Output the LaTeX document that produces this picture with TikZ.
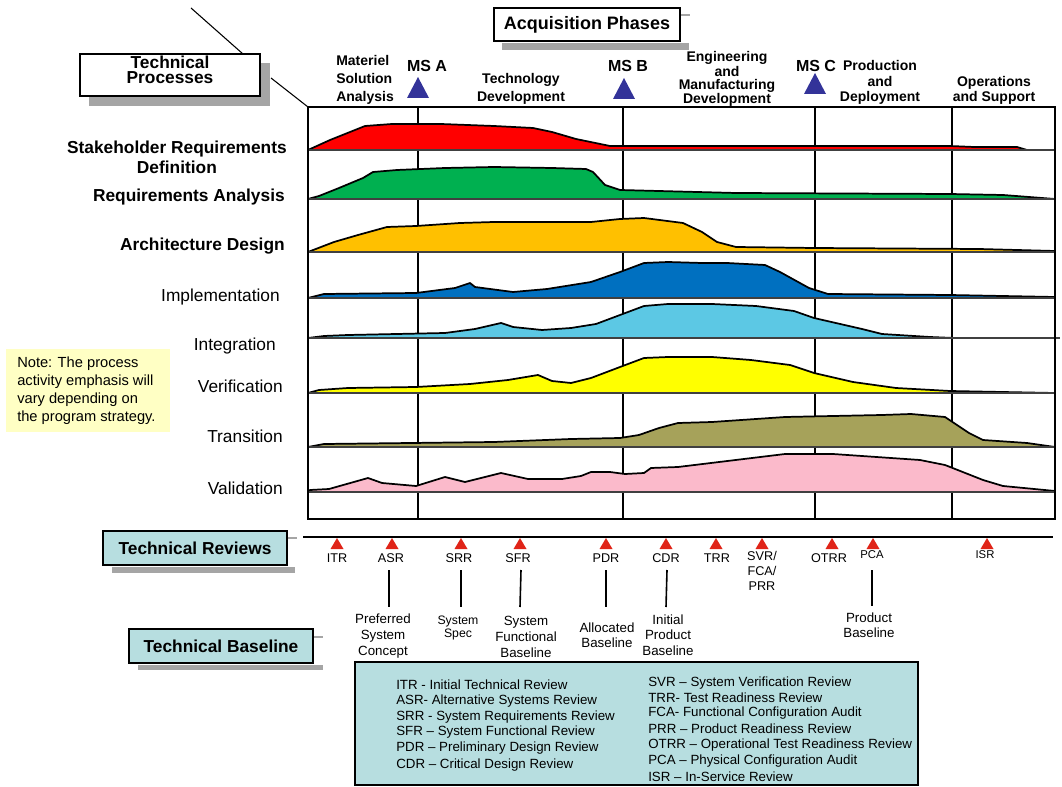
\documentclass[tikz,border=0pt]{standalone}
\usepackage{fontspec}
\setmainfont{Liberation Sans}
\definecolor{cRed}{RGB}{255,0,0}
\definecolor{cGreen}{RGB}{0,176,80}
\definecolor{cOrange}{RGB}{255,192,0}
\definecolor{cBlue}{RGB}{0,112,192}
\definecolor{cLBlue}{RGB}{92,200,228}
\definecolor{cYellow}{RGB}{255,255,0}
\definecolor{cOlive}{RGB}{166,162,90}
\definecolor{cPink}{RGB}{251,186,203}
\definecolor{msBlue}{RGB}{51,51,153}
\definecolor{revRed}{RGB}{224,36,24}
\definecolor{cyanBox}{RGB}{183,222,224}
\definecolor{noteY}{RGB}{255,255,196}
\definecolor{shadowG}{RGB}{165,165,165}
\newcommand\procarea[2]{\fill[#1] #2 -- cycle; \draw[curve] #2;}
\tikzset{
  gridln/.style={line width=1.4pt, black},
  boxln/.style={line width=1.5pt, black},
  baseln/.style={line width=2pt, black!75},
  curve/.style={line width=1.3pt, black, line join=round},
  plbl/.style={anchor=east, inner sep=0, font=\fontsize{13}{15}\selectfont},
  bplbl/.style={plbl, font=\bfseries\fontsize{13}{15}\selectfont},
  phase/.style={inner sep=0, align=center, font=\bfseries\fontsize{10.5}{13.5}\selectfont},
  mslbl/.style={inner sep=0, font=\bfseries\fontsize{12}{14}\selectfont},
  revlbl/.style={inner sep=0, font=\fontsize{9.5}{11.5}\selectfont, align=center},
  blbl/.style={inner sep=0, font=\fontsize{10}{12}\selectfont, align=center},
  leg/.style={anchor=west, inner sep=0, font=\fontsize{10}{12}\selectfont},
  shadowbox/.style={fill=shadowG},
  titlebox/.style={draw, line width=1.5pt, fill=white, inner sep=0, align=center, font=\bfseries\fontsize{13}{12}\selectfont},
  cyanbox/.style={draw, line width=1.8pt, fill=cyanBox, inner sep=0, align=center, font=\bfseries\fontsize{13}{15}\selectfont},
  conn/.style={line width=1.2pt, black},
}
\begin{document}
\begin{tikzpicture}[x=0.75pt,y=-0.75pt]
\useasboundingbox (0,0) rectangle (1062,787);

% ---------- header boxes ----------
\coordinate (d1a) at (191,8); \coordinate (d1b) at (243,54);
\coordinate (d2a) at (271,78); \coordinate (d2b) at (308,107);
\draw[line width=0.8pt] (d1a) -- (d1b);
\draw[line width=0.8pt] (d2a) -- (d2b);

\fill[shadowbox] (89,63) rectangle (270,106);
\node[titlebox, minimum width=135pt, minimum height=31.5pt] (tp) at (170,75) {};
\node[inner sep=0, align=center, font=\bfseries\fontsize{13}{11.5}\selectfont] (tpt) at (170,70) {Technical\\Processes};

\fill[shadowbox] (502,43) rectangle (689,50);
\draw[shadowG, line width=0.8pt] (680,15) -- (690,15);
\node[titlebox, minimum width=139.5pt, minimum height=24.75pt, font=\bfseries\fontsize{13.5}{15}\selectfont] (acq) at (587,24.5) {Acquisition Phases};

% ---------- phases & milestones ----------
\node[phase, anchor=west, align=left] (msa) at (336,80) {Materiel\\Solution\\Analysis};
\node[phase] (td) at (521,89) {Technology\\Development};
\node[phase, font=\bfseries\fontsize{10.5}{9.8}\selectfont] (emd) at (727,79) {Engineering\\and\\Manufacturing\\Development};
\node[phase, font=\bfseries\fontsize{10.5}{11.6}\selectfont] (pd) at (880,82.5) {Production\\and\\Deployment};
\node[phase, font=\bfseries\fontsize{10.5}{11.3}\selectfont] (os) at (994,90.5) {Operations\\and Support};

\node[mslbl] (msA) at (427,66) {MS A};
\node[mslbl] (msB) at (628,66) {MS B};
\node[mslbl] (msC) at (816,66) {MS C};
\fill[msBlue] (407,98) -- (429,98) -- (418,77) -- cycle;
\fill[msBlue] (613,99) -- (635,99) -- (624,78) -- cycle;
\fill[msBlue] (804,94) -- (826,94) -- (815,73) -- cycle;

% ---------- grid ----------
\foreach \x in {418,623,815,952} \draw[gridln] (\x,107) -- (\x,519);

% ---------- process curves ----------
\procarea{cRed}{(308,150) -- (330,140) -- (365,126) -- (392,124) -- (441,124) -- (494,126) -- (533,128) -- (552,132) -- (576,139) -- (610,146) -- (950,146) -- (974,147) -- (1017,147) -- (1027,150) -- (1055,150)}
\procarea{cGreen}{(308,199) -- (319,196) -- (339,188) -- (363,178) -- (373,172) -- (397,170) -- (445,168) -- (494,167) -- (552,168) -- (586,169) -- (593,172) -- (605,185) -- (620,190) -- (736,193) -- (950,194) -- (1003,195) -- (1055,199)}
\procarea{cOrange}{(308,252) -- (334,242) -- (358,235) -- (387,227) -- (416,226) -- (460,223) -- (494,222) -- (591,222) -- (620,219) -- (644,218) -- (683,223) -- (702,232) -- (717,242) -- (736,247) -- (814,248) -- (979,249) -- (1055,251) -- (1055,252)}
\procarea{cBlue}{(308,298) -- (324,294) -- (416,293) -- (455,288) -- (470,283) -- (475,287) -- (513,292) -- (547,289) -- (591,282) -- (620,272) -- (644,263) -- (668,262) -- (702,263) -- (727,263) -- (765,265) -- (780,272) -- (809,288) -- (828,294) -- (950,295) -- (1055,297) -- (1055,298)}
\procarea{cLBlue}{(308,338) -- (324,336) -- (348,335) -- (445,333) -- (475,329) -- (501,323) -- (513,327) -- (542,330) -- (571,328) -- (596,324) -- (620,315) -- (644,306) -- (668,304) -- (712,304) -- (756,306) -- (794,311) -- (814,318) -- (862,329) -- (882,334) -- (930,337) -- (954,338) -- (1055,338)}
\procarea{cYellow}{(308,393) -- (319,390) -- (348,388) -- (416,387) -- (470,384) -- (508,380) -- (538,375) -- (552,381) -- (571,383) -- (591,378) -- (620,367) -- (644,358) -- (668,357) -- (712,357) -- (751,360) -- (790,365) -- (814,373) -- (853,382) -- (896,388) -- (950,391) -- (1055,393)}
\procarea{cOlive}{(308,447) -- (324,444) -- (411,443) -- (494,442) -- (571,439) -- (620,438) -- (639,435) -- (659,428) -- (678,423) -- (712,422) -- (785,417) -- (833,416) -- (882,415) -- (911,414) -- (945,417) -- (969,433) -- (983,440) -- (1027,443) -- (1055,447)}
\procarea{cPink}{(308,492) -- (310,490) -- (329,489) -- (368,478) -- (382,483) -- (416,486) -- (445,477) -- (465,482) -- (501,473) -- (528,479) -- (562,479) -- (581,476) -- (591,472) -- (610,472) -- (625,474) -- (644,473) -- (651,468) -- (678,467) -- (785,454) -- (833,454) -- (920,460) -- (945,465) -- (983,480) -- (1003,486) -- (1055,491)}

\foreach \y in {150,199,252,298,393,447,492} \draw[baseln] (308,\y) -- (1055,\y);
\draw[baseln] (308,338) -- (1060,338);
\draw[boxln] (308,107) rectangle (1055,519);

% ---------- process labels ----------
\node[bplbl, align=center, font=\bfseries\fontsize{13}{15}\selectfont] (srd) at (287,157) {Stakeholder Requirements\\Definition};
\node[bplbl] (ra) at (285,197) {Requirements Analysis};
\node[bplbl] (ad) at (285,246) {Architecture Design};
\node[plbl] (impl) at (280,297) {Implementation};
\node[plbl] (integ) at (276,346) {Integration};
\node[plbl] (verif) at (283,386) {Verification};
\node[plbl] (trans) at (283,436) {Transition};
\node[plbl] (valid) at (283,488) {Validation};

% ---------- note ----------
\fill[noteY] (6,349) rectangle (170,432);
\node[anchor=west, inner sep=0, align=left, font=\fontsize{11}{13.5}\selectfont] (note) at (17,391) {Note: The process\\activity emphasis will\\vary depending on\\the program strategy.};

% ---------- technical reviews ----------
\fill[shadowbox] (112,567) rectangle (295,573);
\draw[shadowG, line width=0.8pt] (287,538) -- (297,538);
\node[cyanbox, minimum width=138pt, minimum height=25.5pt] (trv) at (195,548) {Technical Reviews};

\draw[line width=1.5pt] (303,537) -- (1053,537);
\foreach \x in {337,392,461,520,606,666,716,762,832,873,987}
  \fill[revRed] (\x-6.5,549) -- (\x+6.5,549) -- (\x,538) -- cycle;

\node[revlbl] (itr) at (337,558) {ITR};
\node[revlbl] (asr) at (391,558) {ASR};
\node[revlbl] (srr) at (459,558) {SRR};
\node[revlbl] (sfr) at (518,558) {SFR};
\node[revlbl] (pdr) at (606,558) {PDR};
\node[revlbl] (cdr) at (666,558) {CDR};
\node[revlbl] (trr) at (717,558) {TRR};
\node[revlbl, anchor=north, font=\fontsize{9.5}{11.3}\selectfont] (svr) at (762,551) {SVR/\\FCA/\\PRR};
\node[revlbl] (otrr) at (829,558) {OTRR};
\node[revlbl, font=\fontsize{8.5}{10}\selectfont] (pca) at (872,555) {PCA};
\node[revlbl, font=\fontsize{8.5}{10}\selectfont] (isr) at (985,555) {ISR};

% ---------- technical baseline ----------
\fill[shadowbox] (138,665) rectangle (323,670);
\draw[shadowG, line width=0.8pt] (313,637) -- (323,637);
\node[cyanbox, minimum width=138pt, minimum height=25.5pt] (tbl) at (221,646) {Technical Baseline};

\node[blbl] (psc) at (383,636) {Preferred\\System\\Concept};
\node[blbl, font=\fontsize{9.2}{10}\selectfont] (ssp) at (458,628) {System\\Spec};
\node[blbl] (sfb) at (526,637) {System\\Functional\\Baseline};
\node[blbl, font=\fontsize{10}{11.3}\selectfont] (alb) at (607,635) {Allocated\\Baseline};
\node[blbl, font=\fontsize{10}{11.5}\selectfont] (ipb) at (668,635) {Initial\\Product\\Baseline};
\node[blbl, font=\fontsize{10}{11.3}\selectfont] (prb) at (869,625) {Product\\Baseline};

\coordinate (c1a) at (389,570); \coordinate (c1b) at (389,607);
\coordinate (c2a) at (461,570); \coordinate (c2b) at (461,607);
\coordinate (c3a) at (521,570); \coordinate (c3b) at (520,607);
\coordinate (c4a) at (606,570); \coordinate (c4b) at (606,607);
\coordinate (c5a) at (667,570); \coordinate (c5b) at (666,607);
\coordinate (c6a) at (872,570); \coordinate (c6b) at (872,606);
\foreach \i in {1,...,6} \draw[conn] (c\i a) -- (c\i b);

% ---------- legend ----------
\node[draw, line width=1.5pt, fill=cyanBox, minimum width=422.25pt, minimum height=92.25pt, inner sep=0] (legend) at (636.5,723.5) {};
\node[leg] (l1) at (396,685) {ITR - Initial Technical Review};
\node[leg] (l2) at (396,701) {ASR- Alternative Systems Review};
\node[leg] (l3) at (396,717) {SRR - System Requirements Review};
\node[leg] (l4) at (396,732) {SFR -- System Functional Review};
\node[leg] (l5) at (396,748) {PDR -- Preliminary Design Review};
\node[leg] (l6) at (396,765) {CDR -- Critical Design Review};
\node[leg] (r1) at (648,683) {SVR -- System Verification Review};
\node[leg] (r2) at (648,698) {TRR- Test Readiness Review};
\node[leg] (r3) at (648,713) {FCA- Functional Configuration Audit};
\node[leg] (r4) at (648,729) {PRR -- Product Readiness Review};
\node[leg] (r5) at (648,745) {OTRR -- Operational Test Readiness Review};
\node[leg] (r6) at (648,761) {PCA -- Physical Configuration Audit};
\node[leg] (r7) at (648,777) {ISR -- In-Service Review};
\end{tikzpicture}
\end{document}
